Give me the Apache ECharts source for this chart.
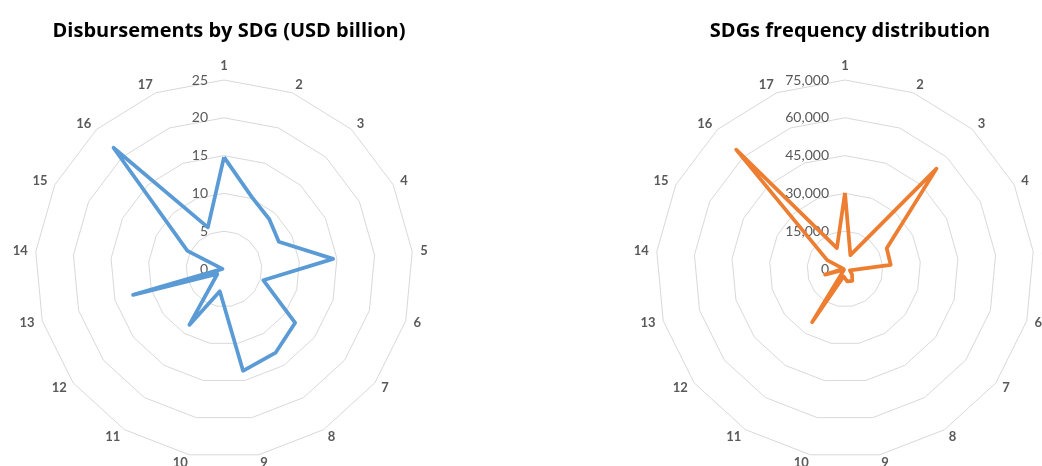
<!DOCTYPE html>
<html>
<head>
<meta charset="utf-8">
<script src="https://cdn.jsdelivr.net/npm/echarts@6/dist/echarts.min.js"></script>
<style>
  html, body { margin: 0; padding: 0; background: #ffffff; }
  #chart { width: 1042px; height: 466px; }
</style>
</head>
<body>
<div id="chart"></div>
<script>
// SDG numbers used as radar axes
const sdgs = ['1','2','3','4','5','6','7','8','9','10','11','12','13','14','15','16','17'];

// Disbursements per SDG, USD billion
const disbursements = [14.8, 10.2, 8.9, 8.1, 14.5, 5.4, 11.8, 13.0, 13.7, 3.0, 8.7, 1.1, 12.5, 0.2, 5.4, 21.7, 5.9];

// Number of times each SDG appears
const frequency = [30200, 5900, 53900, 18500, 18200, 2000, 3500, 5500, 5000, 3000, 24800, 500, 8200, 600, 7900, 64100, 8900];

// Scale settings for the two charts
const disbMax = 25, disbStep = 5;
const freqMax = 75000, freqStep = 15000;

const FONT = 'Lato, "Open Sans", sans-serif';
const TITLE_FONT = '"Open Sans", Lato, sans-serif';
const GRID = '#d9d9d9';
const TEXT = '#595959';
const R = 189;
const leftCenter = [224, 269];
const rightCenter = [845, 269];

// ECharts lays radar axes out counter-clockwise; walk the SDGs as
// 1, 17, 16, ..., 2 so they read clockwise from the top.
const order = [0].concat(sdgs.map((_, i) => i).slice(1).reverse());
const cw = arr => order.map(i => arr[i]);

function radarCfg(center, max) {
  return {
    center: center,
    radius: R,
    startAngle: 90,
    shape: 'polygon',
    splitNumber: 5,
    indicator: cw(sdgs).map(n => ({ name: n, max: max, min: 0 })),
    axisName: { color: TEXT, fontFamily: FONT, fontWeight: 'bold', fontSize: 13 },
    nameGap: 8,
    axisLine: { show: false },
    splitLine: { lineStyle: { color: GRID, width: 1 } },
    splitArea: { show: false },
    axisTick: { show: false },
    axisLabel: { show: false }
  };
}

function radiusAxisCfg(idx, max, step, fmt) {
  return {
    polarIndex: idx,
    type: 'value',
    min: 0,
    max: max,
    interval: step,
    axisLine: { show: false },
    axisTick: { show: false },
    splitLine: { show: false },
    axisLabel: {
      show: true,
      color: TEXT,
      fontFamily: FONT,
      fontSize: 14,
      margin: 16,
      formatter: fmt
    }
  };
}

const chart = echarts.init(document.getElementById('chart'), null, { renderer: 'canvas' });

chart.setOption({
  backgroundColor: '#ffffff',
  animation: false,
  title: [
    {
      text: 'Disbursements by SDG (USD billion)',
      left: leftCenter[0], top: 16, textAlign: 'center',
      textStyle: { fontFamily: TITLE_FONT, fontWeight: 'bold', fontSize: 20, color: '#000000' }
    },
    {
      text: 'SDGs frequency distribution',
      left: rightCenter[0], top: 16, textAlign: 'center',
      textStyle: { fontFamily: TITLE_FONT, fontWeight: 'bold', fontSize: 20, color: '#000000' }
    }
  ],
  radar: [radarCfg(leftCenter, disbMax), radarCfg(rightCenter, freqMax)],
  // polar systems sharing the radar geometry carry the value labels on axis 1
  polar: [
    { center: leftCenter, radius: R },
    { center: rightCenter, radius: R }
  ],
  angleAxis: [
    { polarIndex: 0, type: 'value', startAngle: 90, show: false, min: 0, max: 1 },
    { polarIndex: 1, type: 'value', startAngle: 90, show: false, min: 0, max: 1 }
  ],
  radiusAxis: [
    radiusAxisCfg(0, disbMax, disbStep, v => String(v)),
    radiusAxisCfg(1, freqMax, freqStep, v => v.toLocaleString('en-US'))
  ],
  series: [
    {
      type: 'radar',
      radarIndex: 0,
      symbol: 'none',
      lineStyle: { color: '#5b9bd5', width: 3.75, join: 'round' },
      data: [{ value: cw(disbursements), name: 'Disbursements' }]
    },
    {
      type: 'radar',
      radarIndex: 1,
      symbol: 'none',
      lineStyle: { color: '#ed7d31', width: 3.75, join: 'round' },
      data: [{ value: cw(frequency), name: 'Frequency' }]
    }
  ]
});
</script>
</body>
</html>
